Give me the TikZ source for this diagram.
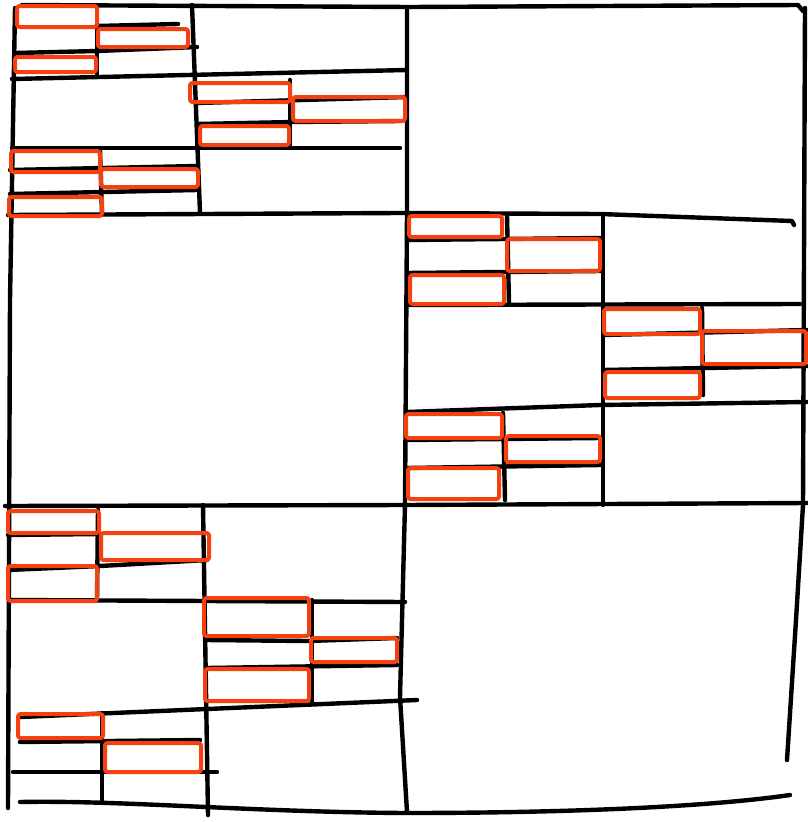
\documentclass[tikz,border=0pt]{standalone}
\definecolor{sketchred}{RGB}{245,64,18}
\tikzset{
  blk/.style={draw=black, line width=4.4pt, line cap=round, line join=round},
  redbox/.style={draw=sketchred, line width=4pt, rounded corners=2.5pt, line join=round}
}
\begin{document}
\begin{tikzpicture}[x=1pt,y=-1pt]
\useasboundingbox (0,0) rectangle (807,822);

% ---------- outer frame and level 1 ----------
\draw[blk] (22,5) -- (410,7) -- (798,5) -- (803,11);
\draw[blk] (15,8) -- (10,300) -- (8,808);
\draw[blk] (805,8) -- (803,505) -- (796,620) -- (787,760);
\draw[blk] (20,802) .. controls (120,800) and (250,812) .. (405,813) .. controls (550,813) and (700,808) .. (790,795);
\draw[blk] (407,8) -- (407,214) -- (405,505) -- (400,697) -- (407,812);
\draw[blk] (8,215) -- (400,213) -- (600,214) -- (792,221) -- (794,225);
\draw[blk] (5,506) -- (405,505) -- (807,503);

% ---------- level 2: top-left block ----------
\draw[blk] (192,5) -- (200,213);
\draw[blk] (12,79) -- (407,70);
\draw[blk] (12,148) -- (400,148);

% ---------- level 2: middle-right block ----------
\draw[blk] (603,215) -- (603,505);
\draw[blk] (407,305) -- (800,304);
\draw[blk] (407,412) -- (600,405) -- (807,402);

% ---------- level 2: bottom-left block ----------
\draw[blk] (203,505) -- (208,815);
\draw[blk] (10,600) -- (405,602);
\draw[blk] (20,717) -- (417,700);

% ---------- level 3 lines ----------
% B1
\draw[blk] (97,5) -- (97,75);
\draw[blk] (97,26) -- (178,24);
\draw[blk] (15,53) -- (97,51) -- (197,47);
% B2
\draw[blk] (290,80) -- (290,145);
\draw[blk] (197,103) -- (407,97);
\draw[blk] (197,124) -- (293,122) -- (400,121);
% B3
\draw[blk] (100,150) -- (102,214);
\draw[blk] (10,170) -- (197,166);
\draw[blk] (10,194) -- (197,190);
% B4
\draw[blk] (507,215) -- (509,303);
\draw[blk] (407,240) -- (600,238);
\draw[blk] (407,273) -- (600,271);
% B5
\draw[blk] (702,308) -- (703,395);
\draw[blk] (603,335) -- (807,330);
\draw[blk] (603,370) -- (807,366);
% B6
\draw[blk] (503,413) -- (505,500);
\draw[blk] (407,440) -- (600,438);
\draw[blk] (407,468) -- (600,465);
% B7
\draw[blk] (98,510) -- (97,600);
\draw[blk] (8,535) -- (100,534);
\draw[blk] (8,570) -- (100,566) -- (207,560);
% B8
\draw[blk] (312,600) -- (312,703);
\draw[blk] (207,640) -- (307,641) -- (397,638);
\draw[blk] (207,668) -- (397,665);
% B9
\draw[blk] (102,713) -- (102,802);
\draw[blk] (20,742) -- (200,740);
\draw[blk] (13,772) -- (217,772);

% ---------- red boxes ----------
% B1
\draw[redbox] (17,6) rectangle (97,27);
\draw[redbox] (98,29) rectangle (188,47);
\draw[redbox] (15,57) rectangle (96,72);
% B2
\draw[redbox] (190,83) rectangle (290,102);
\draw[redbox] (293,97) rectangle (405,121);
\draw[redbox] (200,126) rectangle (289,145);
% B3
\draw[redbox] (11,151) rectangle (100,172);
\draw[redbox] (101,169) rectangle (198,187);
\draw[redbox] (9,197) rectangle (102,216);
% B4
\draw[redbox] (409,216) rectangle (502,237);
\draw[redbox] (507,239) rectangle (600,271);
\draw[redbox] (410,275) rectangle (504,304);
% B5
\draw[redbox] (604,309) rectangle (700,334);
\draw[redbox] (702,331) rectangle (806,364);
\draw[redbox] (605,372) rectangle (700,398);
% B6
\draw[redbox] (406,414) rectangle (502,438);
\draw[redbox] (506,436) rectangle (600,462);
\draw[redbox] (408,468) rectangle (499,499);
% B7
\draw[redbox] (8,511) rectangle (99,533);
\draw[redbox] (101,533) rectangle (209,560);
\draw[redbox] (8,566) rectangle (97,601);
% B8
\draw[redbox] (204,598) rectangle (309,636);
\draw[redbox] (311,638) rectangle (397,662);
\draw[redbox] (205,669) rectangle (309,701);
% B9
\draw[redbox] (18,714) rectangle (103,738);
\draw[redbox] (105,743) rectangle (201,772);
\end{tikzpicture}
\end{document}
